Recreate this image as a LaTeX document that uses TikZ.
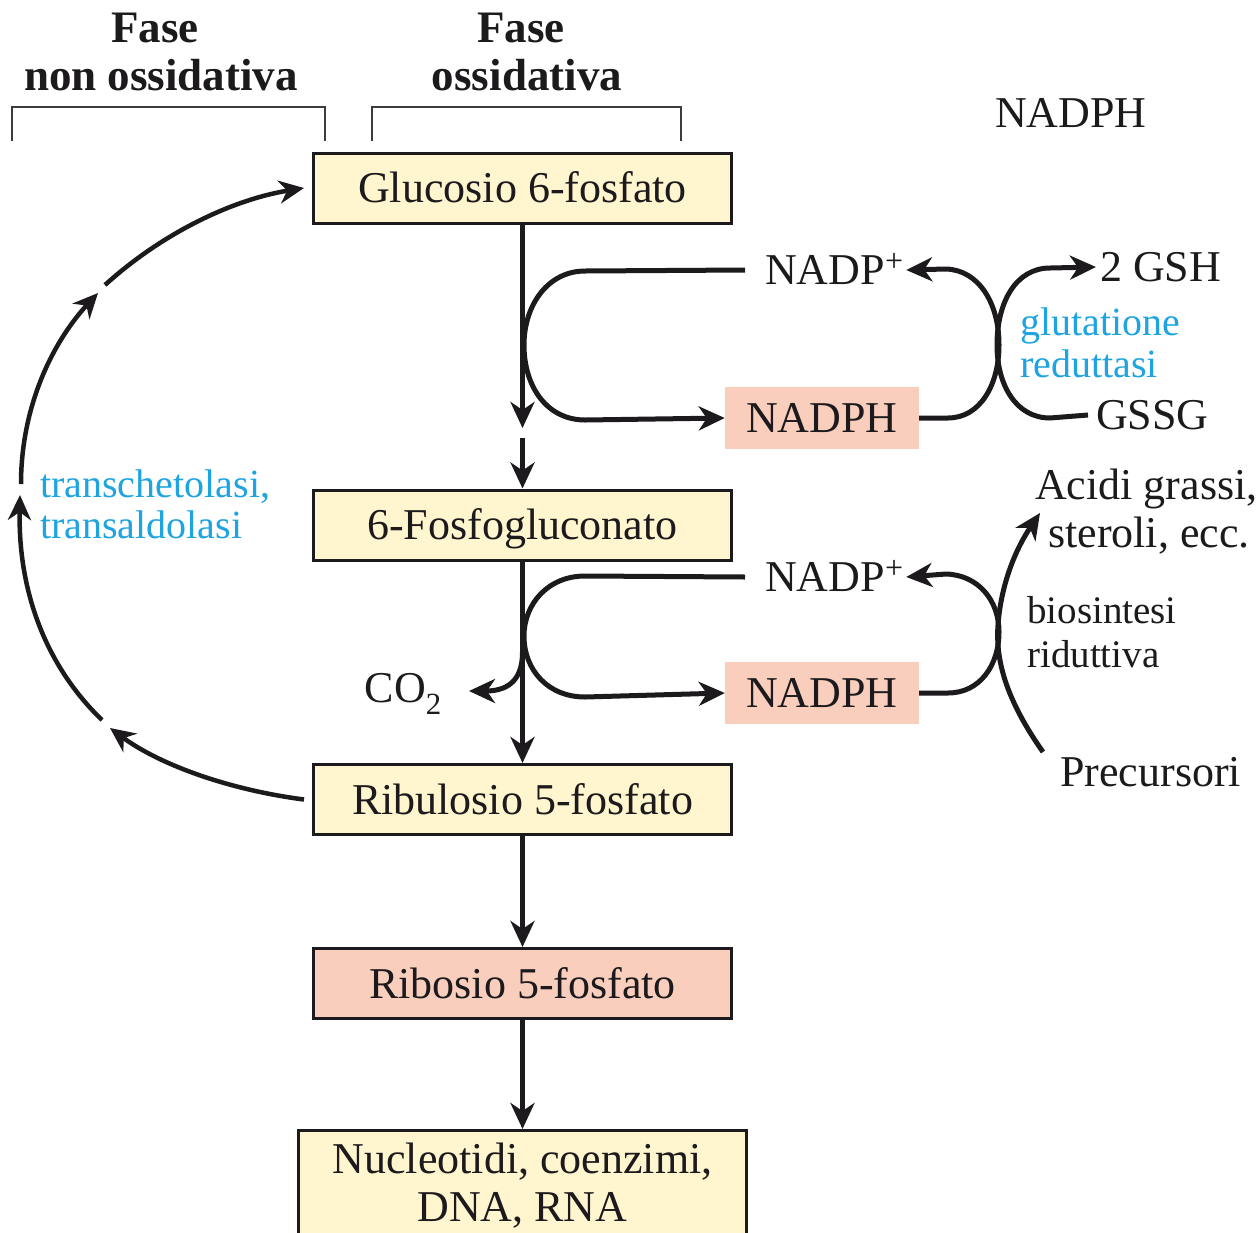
\documentclass[tikz,border=0pt]{standalone}
\usepackage{fontspec}
\setmainfont{Liberation Serif}
\usetikzlibrary{arrows.meta,calc}
\definecolor{boxy}{RGB}{255,245,206}
\definecolor{boxp}{RGB}{249,206,188}
\definecolor{enz}{RGB}{30,164,224}
\definecolor{ink}{RGB}{28,26,28}
\newcommand\mainsz{\fontsize{44}{48}\selectfont}
\newcommand\hdrsz{\fontsize{45}{48}\selectfont\bfseries}
\newcommand\smallsz{\fontsize{39}{42}\selectfont}
\newcommand\enzsz{\fontsize{40}{42}\selectfont}
\newcommand\plussup{\raisebox{13pt}{\fontsize{32}{32}\selectfont +}}
\begin{document}
\begin{tikzpicture}[x=1pt,y=-1pt,
  box/.style={draw=ink, line width=3pt, fill=boxy, minimum width=418pt, minimum height=70pt,
    inner sep=0pt, text height=29pt, text depth=0pt, font=\mainsz, text=ink},
  pbox/.style={box, fill=boxp},
  nbox/.style={fill=boxp, draw=none, minimum width=194pt, minimum height=62pt,
    inner sep=0pt, text height=29pt, text depth=0pt, font=\mainsz, text=ink},
  lab/.style={inner sep=0pt, font=\mainsz, text height=29pt, text depth=0pt, text=ink},
  hdr/.style={inner sep=0pt, font=\hdrsz, anchor=base, text=ink},
  enzl/.style={inner sep=0pt, font=\enzsz, text=enz, anchor=base west},
  sml/.style={inner sep=0pt, font=\smallsz, text=ink, anchor=base west},
  arr/.style={draw=ink, line width=5pt, -{Stealth[length=26pt,width=24pt,inset=8pt]}},
  larr/.style={draw=ink, line width=4.5pt, -{Stealth[length=25pt,width=23pt,inset=8pt]}},
  brk/.style={draw=ink!85, line width=2.5pt}
]
\useasboundingbox (0,0) rectangle (1256,1232);
\fill[white] (0,0) rectangle (1256,1232);

% headers
\node[hdr] (hl1) at (155,42) {Fase};
\node[hdr] (hl2) at (161,90) {non ossidativa};
\node[hdr] (hr1) at (521,42) {Fase};
\node[hdr] (hr2) at (527,90) {ossidativa};
\draw[brk] (12,141) |- (325,107) -- (325,141);
\draw[brk] (372,141) |- (681,107) -- (681,141);
\node[lab, anchor=west] (nadpT) at (995,113) {NADPH};

% main boxes
\node[box] (g6p) at (522.5,188) {Glucosio 6-fosfato};
\node[box] (pg6) at (522.5,525) {6-Fosfogluconato};
\node[box] (ru5) at (522.5,799.5) {Ribulosio 5-fosfato};
\node[pbox] (r5p) at (522.5,983.5) {Ribosio 5-fosfato};
\node[box, minimum width=448pt, minimum height=110pt, anchor=north, text height=, text depth=,
  align=center] (nucl) at (522.5,1129) {Nucleotidi, coenzimi,\\DNA, RNA};
\fill[boxy] (299,1235) rectangle (746,1245);

% NADPH boxes
\node[nbox] (nadph1) at (822,418) {NADPH};
\node[nbox] (nadph2) at (822,693) {NADPH};

% labels
\node[lab, anchor=west] (nadp1) at (765,270) {NADP\plussup};
\node[lab, anchor=west] (nadp2) at (765,577) {NADP\plussup};
\node[lab, anchor=west] (gsh) at (1100,267) {2 GSH};
\node[lab, anchor=west] (gssg) at (1096,415) {GSSG};
\node[enzl] (glu1) at (1020,335) {glutatione};
\node[enzl] (glu2) at (1020,377) {reduttasi};
\node[lab, anchor=west] (acidi) at (1035,485) {Acidi grassi,};
\node[lab, anchor=west] (stero) at (1048,533) {steroli, ecc.};
\node[sml] (bio1) at (1027,623) {biosintesi};
\node[sml] (bio2) at (1027,667) {riduttiva};
\node[lab, anchor=west] (prec) at (1060,772) {Precursori};
\node[lab, anchor=east] (co2) at (442,688) {CO\textsubscript{2}};
\node[enzl] (tk1) at (40,497) {transchetolasi,};
\node[enzl] (tk2) at (40,538) {transaldolasi};

% coordinates
\coordinate (v1) at (522.5,428);
\coordinate (v2) at (522.5,438);
\coordinate (c2s) at (522.5,652);
\coordinate (c2e) at (469,691);
\coordinate (ps) at (1043,752);
\coordinate (pe) at (1040,513);
\coordinate (a1) at (110,728);
\coordinate (a2) at (102,720);
\coordinate (a3) at (20,495);
\coordinate (a4) at (21,484);
\coordinate (a5) at (98,293);
\coordinate (a6) at (105,285);

% vertical flow
\draw[arr] (g6p.south) -- (v1);
\draw[arr] (v2) -- (pg6.north);
\draw[arr] (pg6.south) -- (ru5.north);
\draw[arr] (ru5.south) -- (r5p.north);
\draw[arr] (r5p.south) -- (nucl.north);
\draw[arr] (c2s) .. controls (522.5,683) and (505,691) .. (c2e);

% upper loop
\draw[arr] ([xshift=-20pt]nadp1.west) -- (585,271) .. controls (548,271) and (524,305) .. (524,345)
  .. controls (524,388) and (548,420) .. (585,420) -- (nadph1.west);
\draw[arr] (nadph1.east) -- (948,418) .. controls (980,418) and (999,385) .. (999,345)
  .. controls (999,302) and (978,270) .. (946,269) -- ([xshift=3pt]nadp1.east);
\draw[arr] ([xshift=-8pt]gssg.west) -- (1050,418) .. controls (1016,418) and (997,385) .. (997,345)
  .. controls (997,302) and (1016,268) .. (1050,268) -- ([xshift=-4pt]gsh.west);

% lower loop
\draw[arr] ([xshift=-20pt]nadp2.west) -- (585,576) .. controls (548,576) and (524,604) .. (524,636)
  .. controls (524,670) and (548,697) .. (585,697) -- (nadph2.west);
\draw[arr] (nadph2.east) -- (948,693) .. controls (980,693) and (999,665) .. (999,632)
  .. controls (999,600) and (978,575) .. (946,574) -- ([xshift=3pt]nadp2.east);
\draw[arr] (ps) .. controls (1010,705) and (995,665) .. (998,625) .. controls (1001,585) and (1015,550) .. (pe);

% left cycle
\draw[larr] ([xshift=-8pt]ru5.west) .. controls (230,790) and (160,765) .. (a1);
\draw[larr] (a2) .. controls (45,665) and (18,590) .. (a3);
\draw[larr] (a4) .. controls (21,410) and (50,345) .. (a5);
\draw[larr] (a6) .. controls (160,235) and (230,200) .. ([xshift=-8pt]g6p.west);
\end{tikzpicture}
\end{document}
